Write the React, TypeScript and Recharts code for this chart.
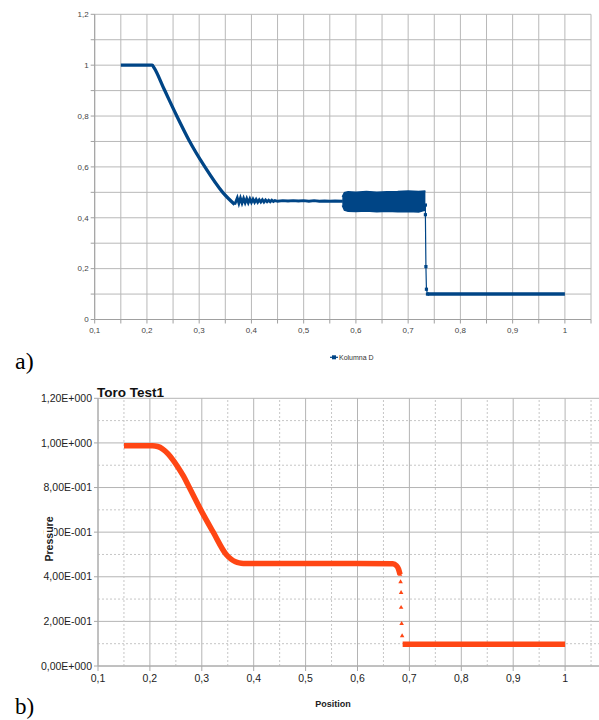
import { ComposedChart, Line, Area, Scatter, XAxis, YAxis, ZAxis, CartesianGrid, ReferenceLine } from "recharts"

// ---- chart a) "Kolumna D" ----
const topRareX = [0.15, 0.21, 0.2135, 0.233, 0.256, 0.281, 0.31, 0.345, 0.368]
const topRareY = [1.0, 1.0, 0.99, 0.905, 0.805, 0.703, 0.603, 0.5, 0.452]

const topWigX = [
  0.368, 0.373, 0.376, 0.379, 0.382, 0.385, 0.388, 0.391, 0.394, 0.397, 0.4, 0.403, 0.406, 0.409, 0.412, 0.415,
  0.418, 0.421, 0.424, 0.427, 0.43, 0.433, 0.436, 0.439, 0.442, 0.445, 0.45, 0.46, 0.47, 0.48, 0.49, 0.5, 0.51,
  0.52, 0.53, 0.54, 0.55, 0.56, 0.575,
]
const topWigY = [
  0.452, 0.478, 0.457, 0.477, 0.458, 0.476, 0.459, 0.475, 0.459, 0.474, 0.46, 0.473, 0.461, 0.472, 0.461, 0.471,
  0.462, 0.471, 0.462, 0.47, 0.463, 0.469, 0.463, 0.469, 0.464, 0.468, 0.465, 0.467, 0.466, 0.467, 0.466, 0.467,
  0.465, 0.467, 0.465, 0.466, 0.465, 0.466, 0.465,
]

const bandX = [0.574, 0.578, 0.585, 0.6, 0.62, 0.64, 0.66, 0.68, 0.7, 0.72, 0.733]
const bandLo = [0.448, 0.43, 0.426, 0.425, 0.427, 0.424, 0.426, 0.424, 0.425, 0.423, 0.43]
const bandHi = [0.482, 0.499, 0.502, 0.5, 0.503, 0.5, 0.502, 0.503, 0.505, 0.503, 0.505]

const topShockX = [0.733, 0.733, 0.734, 0.735, 0.737]
const topShockY = [0.45, 0.412, 0.208, 0.119, 0.1]

const topFlatX = [0.737, 1.0]
const topFlatY = [0.1, 0.1]

const topXTicks = [
  0.1, 0.15, 0.2, 0.25, 0.3, 0.35, 0.4, 0.45, 0.5, 0.55, 0.6, 0.65, 0.7, 0.75, 0.8, 0.85, 0.9, 0.95, 1.0, 1.05,
]
const topYTicks = [0, 0.1, 0.2, 0.3, 0.4, 0.5, 0.6, 0.7, 0.8, 0.9, 1.0, 1.1, 1.2]

// ---- chart b) "Toro Test1" ----
const botCurveX = [
  0.15, 0.205, 0.215, 0.225, 0.235, 0.245, 0.255, 0.265, 0.276, 0.298, 0.322, 0.347, 0.357, 0.365, 0.372, 0.38,
  0.5, 0.6, 0.668, 0.675, 0.679, 0.682,
]
const botCurveY = [
  0.987, 0.987, 0.984, 0.972, 0.951, 0.922, 0.888, 0.85, 0.8, 0.7, 0.6, 0.5, 0.478, 0.467, 0.462, 0.46, 0.46,
  0.46, 0.458, 0.45, 0.435, 0.41,
]

const botShockX = [0.682, 0.683, 0.684, 0.684, 0.685, 0.686]
const botShockY = [0.41, 0.377, 0.329, 0.262, 0.19, 0.135]

const botFlatX = [0.687, 1.0]
const botFlatY = [0.098, 0.098]

const botXTicks = [0.1, 0.2, 0.3, 0.4, 0.5, 0.6, 0.7, 0.8, 0.9, 1.0, 1.1]
const botXMinor = [0.15, 0.25, 0.35, 0.45, 0.55, 0.65, 0.75, 0.85, 0.95, 1.05]
const botYTicks = [0, 0.2, 0.4, 0.6, 0.8, 1.0, 1.2]
const botYLabels = ["0,00E+000", "2,00E-001", "4,00E-001", "6,00E-001", "8,00E-001", "1,00E+000", "1,20E+000"]
const botYMinor = [0.1, 0.3, 0.5, 0.7, 0.9, 1.1]

const zip = (xs: number[], ys: number[]) => xs.map((x, i) => ({ x, y: ys[i] }))

const BLUE = "#004586"
const ORANGE = "#ff4614"

const fmtTopX = (v: number) => {
  const k = Math.round(v * 100)
  if (k % 10 !== 0 || k > 100) return ""
  return String(k / 100).replace(".", ",")
}

const fmtTopY = (v: number) => {
  const k = Math.round(v * 10)
  if (k % 2 !== 0) return ""
  return String(k / 10).replace(".", ",")
}

const fmtBotX = (v: number) => (v > 1.01 ? "" : String(Math.round(v * 10) / 10).replace(".", ","))
const fmtBotY = (v: number) => botYLabels[botYTicks.findIndex((t) => Math.abs(t - v) < 1e-6)] ?? ""

function TopChart() {
  const band = bandX.map((x, i) => ({ x, band: [bandLo[i], bandHi[i]] }))
  return (
    <ComposedChart width={599} height={340} margin={{ top: 14.3, right: 8, left: 0, bottom: 0 }}>
      <CartesianGrid stroke="#b8b8b8" strokeWidth={1} />
      <XAxis
        type="number"
        dataKey="x"
        domain={[0.1, 1.05]}
        ticks={topXTicks}
        tickFormatter={fmtTopX}
        height={20.5}
        tickSize={4}
        tickMargin={4}
        stroke="#a0a0a0"
        tick={{ fontSize: 8, fill: "#444" }}
        allowDataOverflow
      />
      <YAxis
        type="number"
        domain={[0, 1.2]}
        ticks={topYTicks}
        tickFormatter={fmtTopY}
        width={94.7}
        tickSize={4}
        tickMargin={2}
        stroke="#a0a0a0"
        tick={{ fontSize: 8, fill: "#444" }}
        allowDataOverflow
      />
      <Area
        data={band}
        dataKey="band"
        type="linear"
        fill={BLUE}
        fillOpacity={1}
        stroke={BLUE}
        strokeWidth={1.5}
        isAnimationActive={false}
      />
      <Line
        data={zip(topRareX, topRareY)}
        dataKey="y"
        type="monotone"
        stroke={BLUE}
        strokeWidth={3.3}
        dot={false}
        isAnimationActive={false}
      />
      <Line
        data={zip(topWigX, topWigY)}
        dataKey="y"
        type="linear"
        stroke={BLUE}
        strokeWidth={2.8}
        dot={false}
        isAnimationActive={false}
      />
      <Line
        data={zip(topShockX, topShockY)}
        dataKey="y"
        type="linear"
        stroke={BLUE}
        strokeWidth={1.2}
        dot={(p: any) => (
          <rect key={`sq-${p.index}`} x={p.cx - 1.6} y={p.cy - 1.6} width={3.2} height={3.2} fill={BLUE} />
        )}
        isAnimationActive={false}
      />
      <Line
        data={zip(topFlatX, topFlatY)}
        dataKey="y"
        type="linear"
        stroke={BLUE}
        strokeWidth={3.4}
        dot={false}
        isAnimationActive={false}
      />
    </ComposedChart>
  )
}

function BottomChart() {
  return (
    <ComposedChart width={617} height={306} margin={{ top: 18.3, right: 0, left: 0, bottom: 0 }}>
      <CartesianGrid stroke="#b4b4b4" strokeWidth={1} />
      {botXMinor.map((v) => (
        <ReferenceLine key={`vx-${v}`} x={v} stroke="#c6c6c6" strokeDasharray="2 2" />
      ))}
      {botYMinor.map((v) => (
        <ReferenceLine key={`hy-${v}`} y={v} stroke="#c6c6c6" strokeDasharray="2 2" />
      ))}
      <XAxis
        type="number"
        dataKey="x"
        domain={[0.1, 1.1]}
        ticks={botXTicks}
        tickFormatter={fmtBotX}
        height={20}
        tickSize={5}
        tickMargin={4}
        stroke="#a8a8a8"
        tick={{ fontSize: 10.5, fill: "#222" }}
        allowDataOverflow
      />
      <YAxis
        type="number"
        domain={[0, 1.2]}
        ticks={botYTicks}
        tickFormatter={fmtBotY}
        width={98}
        tickSize={4}
        tickMargin={2}
        stroke="#a8a8a8"
        tick={{ fontSize: 10.5, fill: "#222" }}
        allowDataOverflow
      />
      <ZAxis range={[9, 9]} />
      <Line
        data={zip(botCurveX, botCurveY)}
        dataKey="y"
        type="monotone"
        stroke={ORANGE}
        strokeWidth={5.5}
        dot={false}
        isAnimationActive={false}
      />
      <Line
        data={zip(botFlatX, botFlatY)}
        dataKey="y"
        type="linear"
        stroke={ORANGE}
        strokeWidth={5.5}
        dot={false}
        isAnimationActive={false}
      />
      <Scatter data={zip(botShockX, botShockY)} dataKey="y" shape="triangle" fill={ORANGE} isAnimationActive={false} />
    </ComposedChart>
  )
}

export default function App() {
  return (
    <div
      style={{
        position: "absolute",
        left: 0,
        top: 0,
        width: 599,
        height: 720,
        overflow: "hidden",
        background: "#fff",
        fontFamily: "'Liberation Sans', Arial, sans-serif",
      }}
    >
      <div style={{ position: "absolute", left: 0, top: 0 }}>
        <TopChart />
      </div>
      <div style={{ position: "absolute", left: 0, top: 380 }}>
        <BottomChart />
      </div>
      <svg width={599} height={720} style={{ position: "absolute", left: 0, top: 0, pointerEvents: "none" }}>
        {/* legend of chart a */}
        <line x1={330} y1={357.3} x2={338} y2={357.3} stroke={BLUE} strokeWidth={1.2} />
        <rect x={332} y={355.3} width={4} height={4} fill={BLUE} />
        <text x={339} y={359.8} fontSize={7} fill="#333">
          Kolumna D
        </text>
        <text x={15} y={369} fontSize={24} fontFamily="'Liberation Serif', 'Times New Roman', serif" fill="#000">
          a)
        </text>
        <text x={15} y={714} fontSize={23} fontFamily="'Liberation Serif', 'Times New Roman', serif" fill="#000">
          b)
        </text>
        <text x={97} y={396.7} fontSize={13.5} fontWeight="bold" fill="#111">
          Toro Test1
        </text>
        <rect x={44} y={516} width={10} height={46} fill="#fff" />
        <text transform="translate(53,539) rotate(-90)" textAnchor="middle" fontSize={10.5} fontWeight="bold" fill="#222">
          Pressure
        </text>
        <text x={333} y={707} textAnchor="middle" fontSize={9} fontWeight="bold" fill="#222">
          Position
        </text>
      </svg>
    </div>
  )
}
